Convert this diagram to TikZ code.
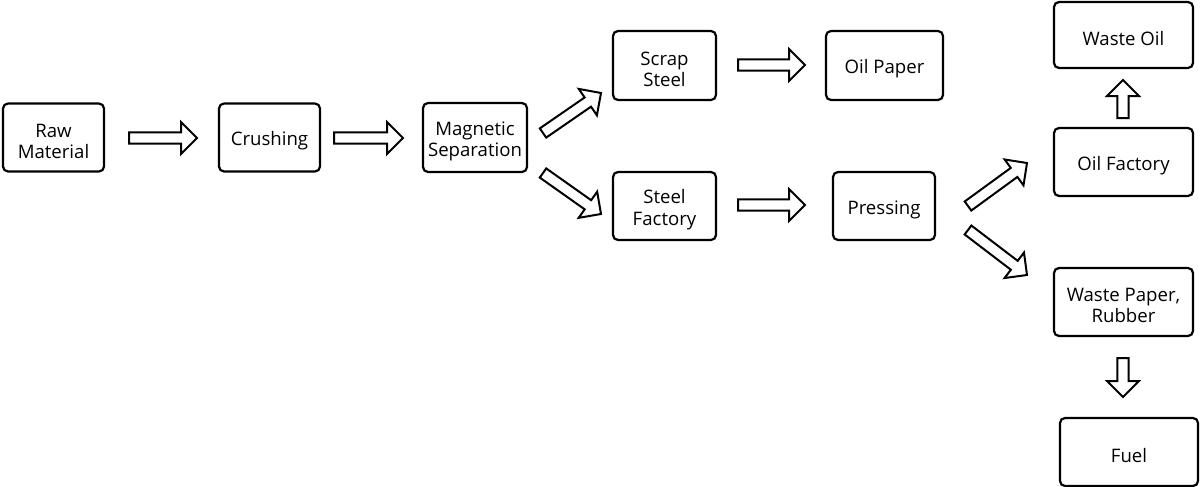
\documentclass[tikz,border=0pt]{standalone}
\usepackage{fontspec}
\setmainfont{Open Sans}
\usetikzlibrary{calc}
\tikzset{
  box/.style={draw=black, line width=1.1pt, rounded corners=2.5pt, fill=white, inner sep=1pt},
  boxtext/.style={align=center, inner sep=0pt, yshift=-1.8pt, font=\fontsize{9.3}{10.6}\selectfont},
  blockarrow/.style={draw=black, line width=1pt, fill=white, line join=miter}
}
\newcommand{\bw}{2.8pt}
\newcommand{\bhw}{8pt}
\newcommand{\bhl}{8pt}
\newcommand{\blockarr}[2]{%
  \coordinate (hb) at ($(#2)!\bhl!(#1)$);
  \draw[blockarrow] ($(#1)!\bw!90:(#2)$) -- ($(hb)!\bw!-90:(#1)$) -- ($(hb)!\bhw!-90:(#1)$)
    -- (#2) -- ($(hb)!\bhw!90:(#1)$) -- ($(hb)!\bw!90:(#1)$) -- ($(#1)!\bw!-90:(#2)$) -- cycle;
}
\begin{document}
\begin{tikzpicture}[x=0.5pt,y=-0.5pt]
\useasboundingbox (0,0) rectangle (1200,487);
% boxes
\node[box, minimum width=50.5pt, minimum height=34pt, label={[boxtext]center:Raw\\Material}] (raw) at (53.5,137.5) {};
\node[box, minimum width=50.5pt, minimum height=34pt, label={[boxtext]center:Crushing}] (crush) at (269.5,137.5) {};
\node[box, minimum width=52pt, minimum height=34.5pt, label={[boxtext]center:Magnetic\\Separation}] (mag) at (475,137.5) {};
\node[box, minimum width=51.5pt, minimum height=34.5pt, label={[boxtext]center:Scrap\\Steel}] (scrap) at (664.5,65.5) {};
\node[box, minimum width=58.5pt, minimum height=34.5pt, label={[boxtext]center:Oil Paper}] (oilpaper) at (884.5,65.5) {};
\node[box, minimum width=51.5pt, minimum height=34pt, label={[boxtext]center:Steel\\Factory}] (steelf) at (664.5,206) {};
\node[box, minimum width=51pt, minimum height=34pt, label={[boxtext]center:Pressing}] (press) at (884,206) {};
\node[box, minimum width=69.5pt, minimum height=33pt, label={[boxtext]center:Waste Oil}] (wasteoil) at (1123.5,35) {};
\node[box, minimum width=69.5pt, minimum height=34pt, label={[boxtext]center:Oil Factory}] (oilf) at (1123.5,162) {};
\node[box, minimum width=69.5pt, minimum height=34pt, label={[boxtext]center:Waste Paper,\\Rubber}] (wastepaper) at (1123.5,302) {};
\node[box, minimum width=69pt, minimum height=34pt, label={[boxtext]center:Fuel}] (fuel) at (1129,452) {};
% arrow endpoints
\coordinate (a1s) at (129,138); \coordinate (a1e) at (197,138);
\coordinate (a2s) at (334,138); \coordinate (a2e) at (403,138);
\coordinate (a3s) at (543,133); \coordinate (a3e) at (601,93);
\coordinate (a4s) at (543,173); \coordinate (a4e) at (601,214);
\coordinate (a5s) at (738,65); \coordinate (a5e) at (805,65);
\coordinate (a6s) at (738,205); \coordinate (a6e) at (805,205);
\coordinate (a7s) at (968,206); \coordinate (a7e) at (1027,163);
\coordinate (a8s) at (968,230); \coordinate (a8e) at (1027,275);
\coordinate (a9s) at (1123,118); \coordinate (a9e) at (1123,80);
\coordinate (a10s) at (1123,358); \coordinate (a10e) at (1123,397);
\blockarr{a1s}{a1e}
\blockarr{a2s}{a2e}
\blockarr{a3s}{a3e}
\blockarr{a4s}{a4e}
\blockarr{a5s}{a5e}
\blockarr{a6s}{a6e}
\blockarr{a7s}{a7e}
\blockarr{a8s}{a8e}
\blockarr{a9s}{a9e}
\blockarr{a10s}{a10e}
\end{tikzpicture}
\end{document}
